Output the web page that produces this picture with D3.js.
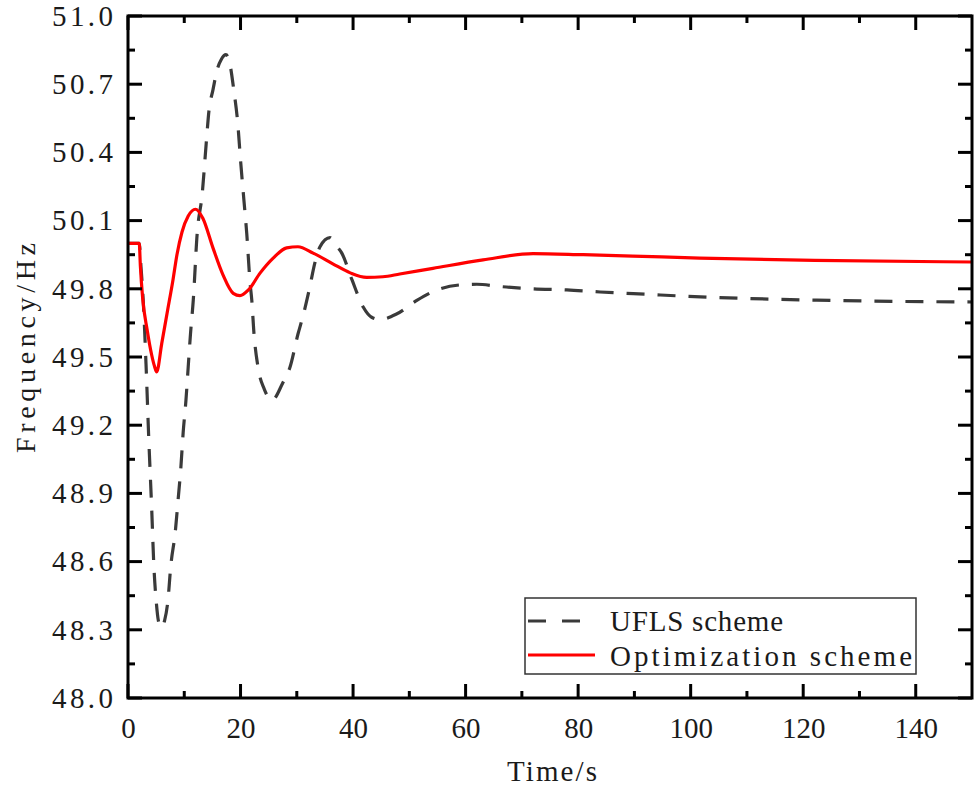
<!DOCTYPE html>
<html>
<head>
<meta charset="utf-8">
<script src="https://cdn.jsdelivr.net/npm/d3@7"></script>
<style>
  html, body { margin: 0; padding: 0; background: #fff; }
  svg { display: block; }
  text { font-family: "Liberation Serif", "Times New Roman", "DejaVu Serif", serif; fill: #1a1a1a; }
</style>
</head>
<body>
<svg id="chart" width="975" height="788"></svg>
<script>
// Frequency response after a disturbance: conventional UFLS vs. optimised shedding
const ufslTime = [0, 2.0, 2.3, 2.7, 3.2, 3.7, 4.2, 4.6, 5.0, 5.4, 5.9, 6.5, 7.1, 7.6, 8.4, 8.9, 9.4, 9.8,
  10.3, 10.7, 11.1, 11.6, 12.3, 13.2, 13.9, 14.4, 15.1, 15.8, 16.6, 17.4, 18.1, 18.8, 19.5, 20.0, 20.6,
  21.1, 21.7, 22.0, 22.4, 23.1, 24.2, 25.6, 27.5, 28.8, 30.2, 31.1, 32.2, 33.2, 34.1, 35.9, 37.0, 38.0,
  39.8, 41.8, 43.3, 44.8, 47.8, 51.4, 54.9, 59, 62, 66.1, 72, 78, 83.9, 92.8, 98.6, 122.4, 150];
const ufslFreq = [50.0, 50.0, 49.9, 49.75, 49.47, 49.135, 48.84, 48.58, 48.43, 48.34, 48.31, 48.34, 48.43,
  48.58, 48.73, 48.87, 49.016, 49.166, 49.31, 49.456, 49.6, 49.75, 50.045, 50.22, 50.44, 50.586, 50.675,
  50.76, 50.81, 50.83, 50.79, 50.675, 50.53, 50.366, 50.19, 50.045, 49.825, 49.75, 49.6, 49.456, 49.36,
  49.31, 49.386, 49.456, 49.6, 49.68, 49.795, 49.913, 49.984, 50.025, 49.99, 49.957, 49.84, 49.72, 49.675,
  49.665, 49.69, 49.75, 49.795, 49.817, 49.82, 49.81, 49.80, 49.795, 49.786, 49.775, 49.768, 49.75, 49.742];

const optTime = [0, 2.0, 2.2, 2.6, 3.4, 4.2, 4.7, 5.1, 6.0, 7.0, 8.0, 8.7, 9.6, 10.7, 12.0, 13.3,
  15.1, 16.9, 18.7, 19.9, 21.4, 23.5, 25.8, 28.2, 30.2, 32.9, 36.4, 39.5, 42.4, 45.3, 48.3, 54.2, 63.1,
  72, 80.9, 89.7, 101.6, 122, 150];
const optFreq = [50.0, 50.0, 49.9, 49.76, 49.62, 49.51, 49.46, 49.435, 49.56, 49.70, 49.84, 49.95,
  50.05, 50.12, 50.15, 50.11, 49.98, 49.86, 49.78, 49.77, 49.795, 49.87, 49.935, 49.98, 49.985, 49.957,
  49.91, 49.87, 49.85, 49.853, 49.865, 49.89, 49.927, 49.955, 49.95, 49.944, 49.935, 49.925, 49.918];

const xTicks = [0, 20, 40, 60, 80, 100, 120, 140];
const xMinorTicks = [10, 30, 50, 70, 90, 110, 130];
const yTicks = [48.0, 48.3, 48.6, 48.9, 49.2, 49.5, 49.8, 50.1, 50.4, 50.7, 51.0];
const yMinorTicks = [48.15, 48.45, 48.75, 49.05, 49.35, 49.65, 49.95, 50.25, 50.55, 50.85];
const seriesNames = ["UFLS scheme", "Optimization scheme"];

const plotLeft = 128, plotRight = 972, plotTop = 16, plotBottom = 698;
const majorLen = 14, minorLen = 7;
const svg = d3.select("#chart");

const x = d3.scaleLinear().domain([0, 150]).range([plotLeft, plotRight]);
const y = d3.scaleLinear().domain([48, 51]).range([plotBottom, plotTop]);

// curves
const line = d3.line().x(d => x(d[0])).y(d => y(d[1])).curve(d3.curveMonotoneX);
const ufsl = ufslTime.map((t, i) => [t, ufslFreq[i]]);
const opt = optTime.map((t, i) => [t, optFreq[i]]);

const plot = svg.append("g");
plot.append("path").datum(ufsl).attr("d", line)
  .attr("fill", "none").attr("stroke", "#3a3a3a").attr("stroke-width", 3.2)
  .attr("stroke-dasharray", "18,13");
plot.append("path").datum(opt).attr("d", line)
  .attr("fill", "none").attr("stroke", "#ff0000").attr("stroke-width", 3.2);

// tick labels from d3 axes (tick marks drawn separately below)
const fmt = d3.format(".1f");
svg.append("g").attr("transform", `translate(0,${plotBottom})`)
  .call(d3.axisBottom(x).tickValues(xTicks).tickSize(0).tickPadding(19))
  .call(g => g.select(".domain").remove())
  .call(g => g.selectAll(".tick line").remove())
  .call(g => g.selectAll("text").attr("font-size", 29).attr("fill", "#1a1a1a"));
svg.append("g").attr("transform", `translate(${plotLeft},0)`)
  .call(d3.axisLeft(y).tickValues(yTicks).tickSize(0).tickPadding(15).tickFormat(fmt))
  .call(g => g.select(".domain").remove())
  .call(g => g.selectAll(".tick line").remove())
  .call(g => g.selectAll("text").attr("font-size", 29).attr("fill", "#1a1a1a")
    .attr("textLength", 61).attr("lengthAdjust", "spacing"));

// inward tick marks on all four sides
const ticksG = svg.append("g");
const xTickSet = xTicks.map(v => [v, majorLen]).concat(xMinorTicks.map(v => [v, minorLen]));
const yTickSet = yTicks.map(v => [v, majorLen]).concat(yMinorTicks.map(v => [v, minorLen]));

function tickStyle(sel) {
  sel.attr("stroke", "#000").attr("stroke-width", 3);
}
ticksG.selectAll("line.xb").data(xTickSet).join("line").attr("class", "xb")
  .attr("x1", d => x(d[0])).attr("x2", d => x(d[0]))
  .attr("y1", plotBottom).attr("y2", d => plotBottom - d[1]).call(tickStyle);
ticksG.selectAll("line.xt").data(xTickSet).join("line").attr("class", "xt")
  .attr("x1", d => x(d[0])).attr("x2", d => x(d[0]))
  .attr("y1", plotTop).attr("y2", d => plotTop + d[1]).call(tickStyle);
ticksG.selectAll("line.yl").data(yTickSet).join("line").attr("class", "yl")
  .attr("y1", d => y(d[0])).attr("y2", d => y(d[0]))
  .attr("x1", plotLeft).attr("x2", d => plotLeft + d[1]).call(tickStyle);
ticksG.selectAll("line.yr").data(yTickSet).join("line").attr("class", "yr")
  .attr("y1", d => y(d[0])).attr("y2", d => y(d[0]))
  .attr("x1", plotRight).attr("x2", d => plotRight - d[1]).call(tickStyle);

// frame
svg.append("rect").attr("x", plotLeft).attr("y", plotTop)
  .attr("width", plotRight - plotLeft).attr("height", plotBottom - plotTop)
  .attr("fill", "none").attr("stroke", "#000").attr("stroke-width", 3);

// axis titles
svg.append("text").attr("x", (plotLeft + plotRight) / 2 + 2).attr("y", 781)
  .attr("text-anchor", "middle").attr("font-size", 29)
  .attr("textLength", 90).attr("lengthAdjust", "spacing")
  .text("Time/s");
svg.append("text").attr("transform", `translate(35,348) rotate(-90)`)
  .attr("text-anchor", "middle").attr("font-size", 28)
  .attr("textLength", 210).attr("lengthAdjust", "spacing")
  .text("Frequency/Hz");

// legend
const lg = svg.append("g");
lg.append("rect").attr("x", 525).attr("y", 598).attr("width", 391).attr("height", 76)
  .attr("fill", "#fff").attr("stroke", "#333").attr("stroke-width", 1.5);
lg.append("line").attr("x1", 528).attr("x2", 582).attr("y1", 621).attr("y2", 621)
  .attr("stroke", "#3a3a3a").attr("stroke-width", 3.2).attr("stroke-dasharray", "18,16");
lg.append("line").attr("x1", 528).attr("x2", 595).attr("y1", 655).attr("y2", 655)
  .attr("stroke", "#ff0000").attr("stroke-width", 3);
lg.append("text").attr("x", 610).attr("y", 631).attr("font-size", 29)
  .attr("textLength", 173).attr("lengthAdjust", "spacing").text(seriesNames[0]);
lg.append("text").attr("x", 610).attr("y", 666).attr("font-size", 29)
  .attr("textLength", 302).attr("lengthAdjust", "spacing").text(seriesNames[1]);
</script>
</body>
</html>
